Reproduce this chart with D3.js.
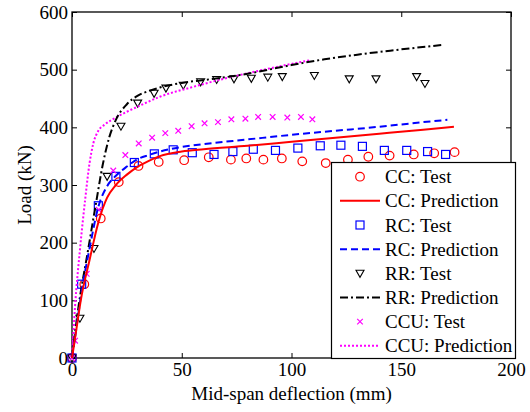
<!DOCTYPE html>
<html lang="en">
  <head>
    <meta charset="utf-8">
    <title>Load vs deflection</title>
    <style>
      body { margin: 0; background: #fff; }
      text { font-family: "Liberation Serif", "Times New Roman", serif; }
    </style>
  </head>
  <body>
    <div id="graph-div"></div>
    <script src="https://d3js.org/d3.v7.min.js"></script>
    <script>

    // test data  [deflection (mm), load (kN)]
    var ccTest = [[0,0],[5.6,128],[13.1,242],[21.3,305],[30.3,333],[39.5,340],[51.1,343],[62.3,348],[72.4,344],[79.4,346],
      [87.2,344],[95.6,346],[104.9,341],[115.6,338],[125.7,344],[135,349],[144.7,351],[155.7,353],[165,355],[174.3,357]];
    var rcTest = [[0,0],[4.4,128],[12,264],[20,315],[28.4,339],[37.5,354],[46.1,361],[54.8,356],[64.7,353],[73.3,358],
      [82.6,362],[92.7,360],[102.9,364],[113.1,368],[122.5,369],[132.3,367],[142.3,360],[152.5,360],[162,358],[170.2,353]];
    var rrTest = [[0,0],[3.6,69],[10,190],[16,315],[22.3,402],[29.9,442],[37.4,459],[42.8,468],[50.7,473],[58.6,479],
      [65.9,483],[73.8,484],[81.7,485],[89.2,487],[95.8,488],[110.4,490],[126.3,484],[138.5,484],[157,488],[160.8,476]];
    var ccuTest = [[0,0],[1.4,30],[6.7,146],[12.2,257],[18.8,325],[24.3,352],[30.4,372],[36.5,382],[42.5,390],[48.4,394],
      [54.5,402],[60.4,407],[66.5,409],[72.6,414],[79,415],[84.8,418],[91.4,418],[98.1,417],[104.3,418],[109.5,414]];

    // predictions
    var ccPred = [[0,0],[2,50],[4,100],[8,170],[12,235],[16,278],[20,300],[25,318],[30,332],[35,342],[40,350],[50,358],
      [60,362],[80,368],[100,375],[120,382],[140,389],[160,396],[174,401]];
    var rcPred = [[0,0],[2,52],[4,106],[8,190],[12,262],[16,298],[20,316],[25,332],[30,345],[35,352],[40,358],[50,366],
      [60,371],[80,379],[100,387],[120,394],[140,401],[160,409],[171,413]];
    var rrPred = [[0,0],[3,90],[7,180],[11,270],[14,335],[17,383],[20,413],[25,440],[30,455],[35,463],[40,469],[50,477],
      [60,482],[70,487],[80,493],[100,508],[115,518],[130,526],[145,533],[169,543]];
    var ccuPred = [[0,0],[1.4,90],[3.6,187],[6,275],[8,338],[9.7,372],[12,394],[15,405],[20,417],[25,427],[30,436],[40,453],
      [55,470],[70,485],[85,498],[100,510],[108,516]];

    var xTicks = [0, 50, 100, 150, 200];
    var yTicks = [0, 100, 200, 300, 400, 500, 600];

    var legendLabels = ["CC: Test", "CC: Prediction", "RC: Test", "RC: Prediction",
                        "RR: Test", "RR: Prediction", "CCU: Test", "CCU: Prediction"];

    var margin = {top: 12, right: 19, bottom: 54, left: 72},
        width = 530 - margin.left - margin.right,
        height = 412 - margin.top - margin.bottom;

    var svg = d3.select("#graph-div")
      .append("svg")
        .attr("width", 530)
        .attr("height", 412);

    var g = svg.append("g")
        .attr("transform", "translate(" + margin.left + "," + margin.top + ")");

    var x = d3.scaleLinear().domain([0, 200]).range([0, width]);
    var y = d3.scaleLinear().domain([0, 600]).range([height, 0]);

    // axes, ticks pointing inward
    function styleAxis(sel, labels) {
      sel.attr("font-family", "Liberation Serif").attr("font-size", 19);
      sel.select(".domain").remove();
      sel.selectAll(".tick line").attr("stroke", "#000");
      sel.selectAll(".tick text").attr("fill", "#000");
      if (!labels) sel.selectAll(".tick text").remove();
    }

    g.append("g")
        .attr("transform", "translate(0," + height + ")")
        .call(d3.axisBottom(x).tickValues(xTicks).tickSizeInner(-5).tickSizeOuter(0).tickPadding(5))
        .call(styleAxis, true);
    g.append("g")
        .call(d3.axisTop(x).tickValues(xTicks).tickSizeInner(-5).tickSizeOuter(0))
        .call(styleAxis, false);
    g.append("g")
        .call(d3.axisLeft(y).tickValues(yTicks).tickSizeInner(-5).tickSizeOuter(0).tickPadding(4))
        .call(styleAxis, true);
    g.append("g")
        .attr("transform", "translate(" + width + ",0)")
        .call(d3.axisRight(y).tickValues(yTicks).tickSizeInner(-5).tickSizeOuter(0))
        .call(styleAxis, false);

    g.append("rect")
        .attr("width", width)
        .attr("height", height)
        .attr("fill", "none")
        .attr("stroke", "#000")
        .attr("stroke-width", 1.3);

    // axis titles
    svg.append("text")
        .attr("x", margin.left + width / 2)
        .attr("y", 400)
        .attr("text-anchor", "middle")
        .style("font-size", "19px")
        .text("Mid-span deflection (mm)");
    svg.append("text")
        .attr("transform", "translate(31," + (margin.top + height / 2) + ") rotate(-90)")
        .attr("text-anchor", "middle")
        .style("font-size", "19px")
        .text("Load (kN)");

    var line = d3.line()
        .x(function(d) { return x(d[0]); })
        .y(function(d) { return y(d[1]); })
        .curve(d3.curveMonotoneX);

    var lineStyles = [
      {data: ccuPred, color: "#ff00ff", dash: "2,2"},
      {data: rrPred, color: "#000000", dash: "8,3,2,3"},
      {data: rcPred, color: "#0000ff", dash: "7,4"},
      {data: ccPred, color: "#ff0000", dash: null}
    ];

    // marker drawing helper
    function drawMarker(sel, kind, color) {
      if (kind == "circle") {
        sel.append("circle").attr("r", 4.3)
          .attr("fill", "none").attr("stroke", color).attr("stroke-width", 1.2);
      } else if (kind == "square") {
        sel.append("rect").attr("x", -4).attr("y", -4).attr("width", 8).attr("height", 8)
          .attr("fill", "none").attr("stroke", color).attr("stroke-width", 1.2);
      } else if (kind == "tri") {
        sel.append("path").attr("d", "M-4,-3L4,-3L0,4Z")
          .attr("fill", "none").attr("stroke", color).attr("stroke-width", 1.1);
      } else {
        sel.append("path").attr("d", "M-2.8,-2.8L2.8,2.8M-2.8,2.8L2.8,-2.8")
          .attr("fill", "none").attr("stroke", color).attr("stroke-width", 1.2);
      }
    }

    var markerSets = [
      {data: ccTest, kind: "circle", color: "#ff0000"},
      {data: rcTest, kind: "square", color: "#0000ff"},
      {data: rrTest, kind: "tri", color: "#000000"},
      {data: ccuTest, kind: "x", color: "#ff00ff"}
    ];

    markerSets.forEach(function(s) {
      g.selectAll(null)
        .data(s.data)
        .enter()
        .append("g")
          .attr("transform", function(d) { return "translate(" + x(d[0]) + "," + y(d[1]) + ")"; })
          .each(function() { drawMarker(d3.select(this), s.kind, s.color); });
    });

    lineStyles.forEach(function(s) {
      g.append("path")
        .datum(s.data)
        .attr("d", line)
        .attr("fill", "none")
        .attr("stroke", s.color)
        .attr("stroke-width", 2)
        .attr("stroke-dasharray", s.dash);
    });

    // legend
    var legend = svg.append("g");
    legend.append("rect")
        .attr("x", 331.5).attr("y", 162.5)
        .attr("width", 184).attr("height", 196)
        .attr("fill", "#fff").attr("stroke", "#000").attr("stroke-width", 1.2);

    var legendItems = [
      {type: "m", kind: "circle", color: "#ff0000"},
      {type: "l", color: "#ff0000", dash: null},
      {type: "m", kind: "square", color: "#0000ff"},
      {type: "l", color: "#0000ff", dash: "7,4"},
      {type: "m", kind: "tri", color: "#000000"},
      {type: "l", color: "#000000", dash: "8,3,2,3"},
      {type: "m", kind: "x", color: "#ff00ff"},
      {type: "l", color: "#ff00ff", dash: "2,2"}
    ];

    legendItems.forEach(function(item, i) {
      var row = legend.append("g").attr("transform", "translate(0," + (176.7 + i * 24.15) + ")");
      if (item.type == "m") {
        var m = row.append("g").attr("transform", "translate(360,0)");
        drawMarker(m, item.kind, item.color);
      } else {
        row.append("line")
          .attr("x1", 340).attr("x2", 380)
          .attr("stroke", item.color).attr("stroke-width", 2)
          .attr("stroke-dasharray", item.dash);
      }
      row.append("text")
        .attr("x", 385)
        .attr("y", 6.5)
        .style("font-size", "19px")
        .text(legendLabels[i]);
    });

    </script>
  </body>
</html>
